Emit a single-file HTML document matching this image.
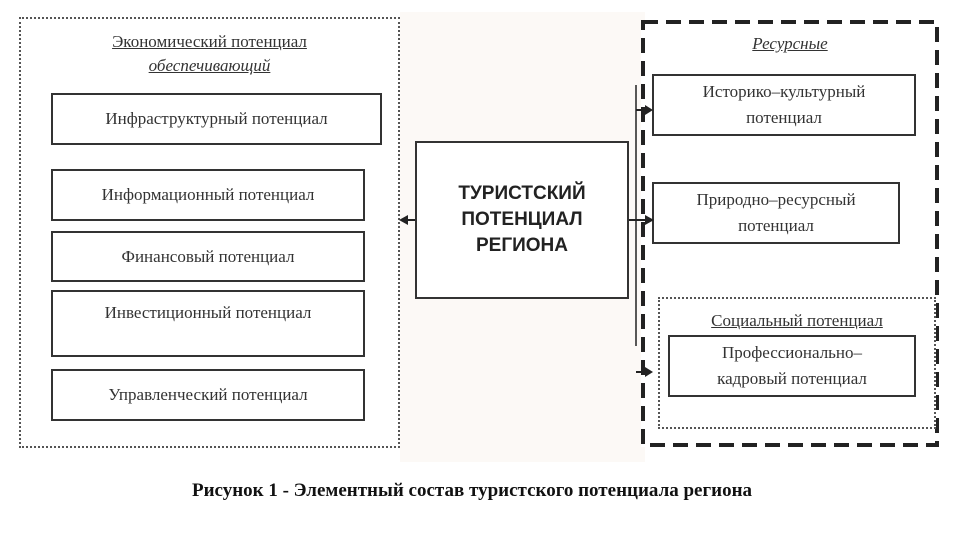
<!DOCTYPE html>
<html><head><meta charset="utf-8"><style>
body{margin:0;width:960px;height:540px;background:#fff;position:relative;overflow:hidden;font-family:"Liberation Serif",serif;color:#222}
.a{position:absolute;box-sizing:border-box}
.b{border:2px solid #333;background:#fff;display:flex;align-items:center;justify-content:center;text-align:center;font-size:17px;line-height:26px;color:#333}
.t{position:absolute;text-align:center;font-size:17px;text-decoration:underline;color:#333}
</style></head><body>
<div class="a" style="left:400px;top:12px;width:245px;height:450px;background:#fcf9f6"></div>
<div class="a" style="left:19px;top:17px;width:381px;height:431px;border:2px dotted #555;background:#fff"></div>
<div class="t" style="left:19px;top:30px;width:381px;line-height:24px">Экономический потенциал<br><i>обеспечивающий</i></div>
<div class="a b" style="left:51px;top:93px;width:331px;height:52px">Инфраструктурный потенциал</div>
<div class="a b" style="left:51px;top:169px;width:314px;height:52px">Информационный потенциал</div>
<div class="a b" style="left:51px;top:231px;width:314px;height:51px">Финансовый потенциал</div>
<div class="a b" style="left:51px;top:290px;width:314px;height:67px;align-items:flex-start;padding-top:8px">Инвестиционный потенциал</div>
<div class="a b" style="left:51px;top:369px;width:314px;height:52px">Управленческий потенциал</div>
<div class="a b" style="left:415px;top:141px;width:214px;height:158px;font-family:'Liberation Sans',sans-serif;font-weight:bold;font-size:19px;line-height:26px;color:#222">ТУРИСТСКИЙ<br>ПОТЕНЦИАЛ<br>РЕГИОНА</div>
<div class="a" style="left:641px;top:20px;width:298px;height:427px;background:#fff"></div>
<svg class="a" style="left:0;top:0" width="960" height="540">
<rect x="643" y="22" width="294" height="423" fill="none" stroke="#222" stroke-width="4" stroke-dasharray="15,8"/>
</svg>
<div class="t" style="left:641px;top:34px;width:298px"><i>Ресурсные</i></div>
<div class="a b" style="left:652px;top:74px;width:264px;height:62px">Историко–культурный<br>потенциал</div>
<div class="a b" style="left:652px;top:182px;width:248px;height:62px">Природно–ресурсный<br>потенциал</div>
<div class="a" style="left:658px;top:297px;width:278px;height:132px;border:2px dotted #555;background:#fff"></div>
<div class="t" style="left:658px;top:311px;width:278px">Социальный потенциал</div>
<div class="a b" style="left:668px;top:335px;width:248px;height:62px">Профессионально–<br>кадровый потенциал</div>
<svg class="a" style="left:0;top:0" width="960" height="540">
<line x1="636" y1="85" x2="636" y2="346" stroke="#222" stroke-width="1.5"/>
<line x1="415" y1="220" x2="405" y2="220" stroke="#222" stroke-width="2"/>
<polygon points="399,220 408,215 408,225" fill="#222"/>
<line x1="629" y1="220" x2="646" y2="220" stroke="#222" stroke-width="2"/>
<polygon points="654,220 645,215 645,225" fill="#222"/>
<line x1="636" y1="110" x2="646" y2="110" stroke="#222" stroke-width="2"/>
<polygon points="653,110 645,105 645,115" fill="#222"/>
<line x1="636" y1="372" x2="646" y2="372" stroke="#222" stroke-width="2"/>
<polygon points="653,372 645,367 645,377" fill="#222"/>
</svg>
<div class="a" style="left:0;top:480px;width:944px;text-align:center;font-weight:bold;font-size:19px;color:#111">Рисунок 1 - Элементный состав туристского потенциала региона</div>
</body></html>
